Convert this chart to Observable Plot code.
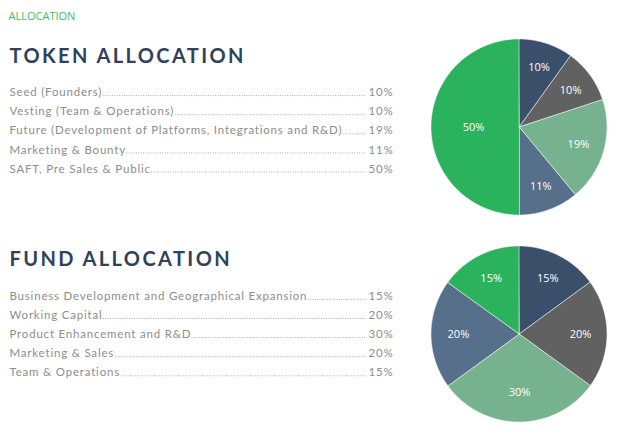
<!DOCTYPE html>
<html>
<head>
<meta charset="utf-8">
<script src="https://cdn.jsdelivr.net/npm/d3@7"></script>
<script src="https://cdn.jsdelivr.net/npm/@observablehq/plot@0.6"></script>
<style>
  html, body { margin: 0; padding: 0; background: #ffffff; }
  #chart svg { display: block; }
</style>
</head>
<body>
<div id="chart"></div>
<script>
// ---- data ----
const pageLabel = "ALLOCATION";
const tokenTitle = "TOKEN ALLOCATION";
const tokenCategories = [
  "Seed (Founders)",
  "Vesting (Team & Operations)",
  "Future (Development of Platforms, Integrations and R&D)",
  "Marketing & Bounty",
  "SAFT, Pre Sales & Public"
];
const tokenValues = [10, 10, 19, 11, 50];
const fundTitle = "FUND ALLOCATION";
const fundCategories = [
  "Business Development and Geographical Expansion",
  "Working Capital",
  "Product Enhancement and R&D",
  "Marketing & Sales",
  "Team & Operations"
];
const fundValues = [15, 20, 30, 20, 15];
const sliceColors = ["#3a4f69", "#616161", "#76b28e", "#566f8a", "#2ab25c"];

// ---- layout ----
const W = 640, H = 434;
const textX = 9, dotsEnd = 366, pctX = 368, rowGap = 19.1;
const listFont = "Lato, 'Open Sans', sans-serif";
const listSize = 11.5, listSpacing = 0.8;
const groups = [
  {title: tokenTitle, titleY: 62, rowStart: 95.7, cats: tokenCategories, vals: tokenValues, cx: 519, cy: 127, r: 88},
  {title: fundTitle, titleY: 265, rowStart: 299.5, cats: fundCategories, vals: fundValues, cx: 519, cy: 334, r: 88}
];

const ctx = document.createElement("canvas").getContext("2d");
ctx.font = `${listSize}px ${listFont}`;
const textWidth = s => ctx.measureText(s).width + listSpacing * s.length;

const rows = [];
const slicePts = [];
const sliceLabels = [];
groups.forEach((g, gi) => {
  const total = d3.sum(g.vals);
  g.cats.forEach((c, i) => rows.push({label: c, pct: g.vals[i] + "%", y: g.rowStart + i * rowGap,
    dotsStart: textX + textWidth(c) + 0.8}));
  const arcs = d3.pie().sort(null).startAngle(0).endAngle(2 * Math.PI)(g.vals);
  arcs.forEach((a, i) => {
    const key = gi + "-" + i;
    const n = Math.max(2, Math.ceil((a.endAngle - a.startAngle) / (Math.PI / 180)));
    for (let k = 0; k <= n; k++) {
      const t = a.startAngle + (a.endAngle - a.startAngle) * k / n;
      slicePts.push({key, color: sliceColors[i], ax: g.cx + g.r * Math.sin(t), ay: g.cy - g.r * Math.cos(t), cx: g.cx, cy: g.cy});
    }
    const f = g.vals[i] / total;
    const mid = (a.startAngle + a.endAngle) / 2;
    const lr = g.r * (0.727 - 0.818 * f * f);
    sliceLabels.push({x: g.cx + lr * Math.sin(mid), y: g.cy - lr * Math.cos(mid), text: g.vals[i] + "%"});
  });
});

const chart = Plot.plot({
  width: W,
  height: H,
  margin: 0,
  x: {domain: [0, W], range: [0, W], axis: null},
  y: {domain: [0, H], range: [0, H], axis: null},
  color: {type: "identity"},
  marks: [
    Plot.text([pageLabel], {x: 8, y: 19, text: d => d, textAnchor: "start", lineAnchor: "bottom",
      fill: "#3bbd69", fontSize: 11, fontFamily: "'Open Sans', sans-serif"}),
    Plot.text(groups, {x: 9, y: "titleY", text: "title", textAnchor: "start", lineAnchor: "bottom",
      fill: "#2f4259", fontSize: 20, fontWeight: 700, fontFamily: listFont, ariaLabel: () => "heading"}),
    Plot.ruleY(rows, {y: d => d.y - 0.6, x1: "dotsStart", x2: dotsEnd, stroke: "#9a9a9a",
      strokeWidth: 0.9, strokeDasharray: "0.9,1.5"}),
    Plot.text(rows, {x: textX, y: "y", text: "label", textAnchor: "start", lineAnchor: "bottom",
      fill: "#8d8d8d", fontSize: listSize, fontFamily: listFont, ariaLabel: () => "rowlabel"}),
    Plot.text(rows, {x: pctX, y: "y", text: "pct", textAnchor: "start", lineAnchor: "bottom",
      fill: "#8d8d8d", fontSize: listSize, fontFamily: listFont, ariaLabel: () => "rowpct"}),
    Plot.area(slicePts, {x1: "ax", y1: "ay", x2: "cx", y2: "cy", z: "key", fill: "color",
      stroke: "white", strokeWidth: 0.5, curve: "linear"}),
    Plot.text(sliceLabels, {x: "x", y: "y", text: "text", fill: "white", fontSize: 11,
      fontFamily: "'Open Sans', sans-serif"})
  ]
});

d3.select(chart).selectAll("text[aria-label='heading']").attr("letter-spacing", 2.4);
d3.select(chart).selectAll("text[aria-label='rowlabel']").attr("letter-spacing", listSpacing);
d3.select(chart).selectAll("text[aria-label='rowpct']").attr("letter-spacing", listSpacing);
document.getElementById("chart").append(chart);
</script>
</body>
</html>
